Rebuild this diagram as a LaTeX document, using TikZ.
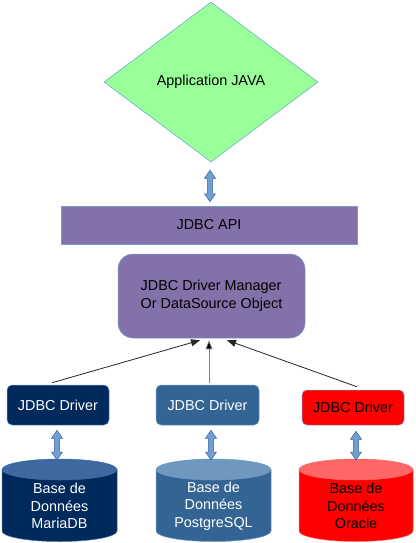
\documentclass[tikz,border=0pt]{standalone}
\usepackage{fontspec}
\setmainfont{Liberation Sans}
\usetikzlibrary{shapes.geometric,arrows.meta,calc}
\definecolor{appgreen}{HTML}{99FF99}
\definecolor{edgeblue}{HTML}{729FCF}
\definecolor{arrblue}{HTML}{729FCF}
\definecolor{arredge}{HTML}{3465A4}
\definecolor{jpurple}{HTML}{8471A9}
\definecolor{navy}{HTML}{00295C}
\definecolor{navytop}{HTML}{3D69A0}
\definecolor{midblue}{HTML}{346494}
\definecolor{midtop}{HTML}{6F98BF}
\definecolor{redtop}{HTML}{FF6666}
\tikzset{
  txt/.style={font=\fontsize{14.4}{17.5}\selectfont},
  box/.style={txt, rectangle, draw=edgeblue, line width=0.5pt, inner sep=0pt},
  drv/.style={box, rounded corners=5pt},
  dblarr/.style={fill=arrblue, draw=arredge, line width=0.5pt, line join=miter},
  link/.style={line width=0.8pt, -{Triangle[length=9pt,width=7pt]}},
  dbtext/.style={txt, align=center, inner sep=0pt}
}
\newcommand\vdblarrow[2]{%
  \path[dblarr] let \p1=#1, \p2=#2 in
    (\x1,\y1) -- (\x1+5.5pt,\y1-8pt) -- (\x1+2.6pt,\y1-8pt) -- (\x1+2.6pt,\y2+8pt)
    -- (\x1+5.5pt,\y2+8pt) -- (\x1,\y2) -- (\x1-5.5pt,\y2+8pt) -- (\x1-2.6pt,\y2+8pt)
    -- (\x1-2.6pt,\y1-8pt) -- (\x1-5.5pt,\y1-8pt) -- cycle;}
% name, cx, rx, body, top, text colour, text
\newcommand\dbcyl[7]{%
  \filldraw[fill=#4, draw=#5, line width=0.5pt] (#2-#3,-469.5) -- (#2-#3,-531)
    arc[start angle=180, end angle=360, x radius=#3, y radius=10.5] -- (#2+#3,-469.5) -- cycle;
  \filldraw[fill=#5, draw=#5, line width=0.5pt] (#2,-469.5) ellipse[x radius=#3, y radius=10.5];
  \coordinate (#1top) at (#2,-460);
  \node[dbtext, text=#6] (#1) at (#2,-506) {#7};}
\begin{document}
\begin{tikzpicture}[x=1pt,y=1pt]
\useasboundingbox[fill=white] (0,0) rectangle (415,-543);
% application
\node[txt, diamond, draw=edgeblue, fill=appgreen, line width=0.5pt, aspect=1.34,
      minimum width=214pt, minimum height=160pt, inner sep=0pt] (app) at (211,-82) {Application JAVA};
% API
\node[box, fill=jpurple, minimum width=296pt, minimum height=38pt] (api) at (209,-225) {JDBC API};
% manager
\node[box, fill=jpurple, rounded corners=15pt, minimum width=187pt, minimum height=84pt, align=left]
  (mgr) at (211.5,-296) {JDBC Driver Manager\\Or DataSource Object};
% drivers
\node[drv, fill=navy, text=white, minimum width=102pt, minimum height=40pt] (d1) at (58,-405) {JDBC Driver};
\node[drv, fill=midblue, text=white, minimum width=103pt, minimum height=40pt] (d2) at (207.5,-405) {JDBC Driver};
\node[drv, fill=red, text=black, minimum width=102pt, minimum height=35pt] (d3) at (353,-407.5) {JDBC Driver};
% databases
\dbcyl{db1}{59.5}{57.5}{navy}{navytop}{white}{Base de\\Données\\MariaDB}
\dbcyl{db2}{213.5}{57.5}{midblue}{midtop}{white}{Base de\\Données\\PostgreSQL}
\dbcyl{db3}{356}{57}{red}{redtop}{black}{Base de\\Données\\Oracle}
% double arrows
\vdblarrow{([xshift=-1pt,yshift=-8pt]app.south)}{([yshift=4pt]api.north)}
\vdblarrow{([xshift=-1pt,yshift=-5pt]d1.south)}{(db1top)}
\vdblarrow{([xshift=3.5pt,yshift=-5pt]d2.south)}{(db2top)}
\vdblarrow{([xshift=3pt,yshift=-6pt]d3.south)}{(db3top)}
% links to manager
\draw[link, draw=black!85] ([shift={(-6,2)}]d1.north) -- ([shift={(-11.5,-2)}]mgr.south);
\draw[link, draw=black!50, -{Triangle[length=9pt,width=7pt,fill=black]}] ([shift={(1.5,2)}]d2.north) -- ([shift={(-2.5,-2)}]mgr.south);
\draw[link, draw=black!85] ([shift={(4,3)}]d3.north) -- ([shift={(15.5,-2)}]mgr.south);
\end{tikzpicture}
\end{document}
